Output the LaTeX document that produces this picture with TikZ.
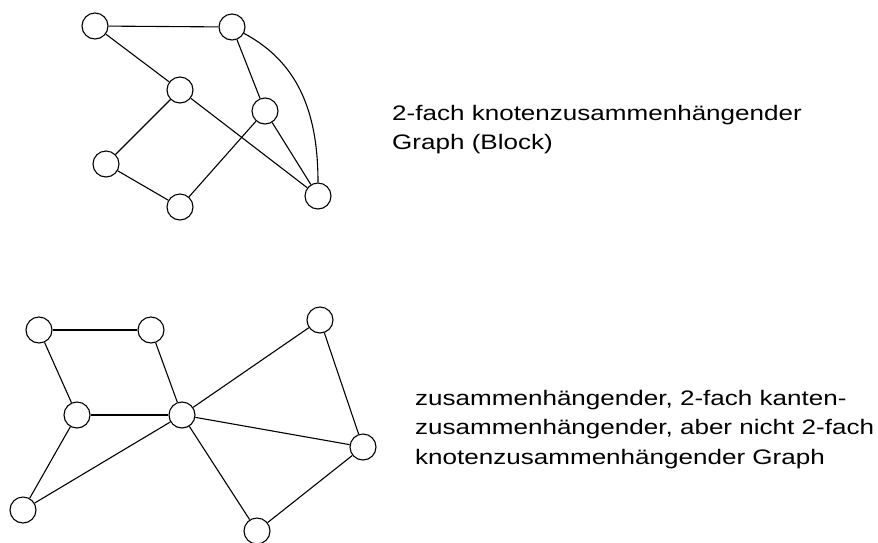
\documentclass[tikz,border=0pt]{standalone}
\usepackage{fontspec}
\setmainfont{Liberation Sans}[FakeStretch=1.24]
\usetikzlibrary{positioning}

\begin{document}
\begin{tikzpicture}[x=1pt,y=-1pt,
    knoten/.style={circle,draw,line width=1.1pt,minimum size=26pt,inner sep=0pt},
    kante/.style={line width=1.1pt},
    beschr/.style={align=left,anchor=base west,inner sep=0pt,
      font=\fontsize{21}{29.5}\selectfont}]
  \useasboundingbox (0,0) rectangle (878,542);

  % Block
  \node[knoten] (a) at (95,26) {};
  \node[knoten] (b) at (232,27) {};
  \node[knoten] (c) at (180,90) {};
  \node[knoten] (d) at (265,111) {};
  \node[knoten] (e) at (106,164) {};
  \node[knoten] (f) at (180,207) {};
  \node[knoten] (g) at (318,196) {};
  \draw[kante] (a) -- (b);
  \draw[kante] (a) -- (c);
  \draw[kante] (c) -- (e);
  \draw[kante] (c) -- (g);
  \draw[kante] (e) -- (f);
  \draw[kante] (f) -- (d);
  \draw[kante] (b) -- (d);
  \draw[kante] (d) -- (g);
  \draw[kante] (b) to[out=-28,in=90] (g);
  \node[beschr] (text1) at (392,149.5) {2-fach knotenzusammenhängender\\Graph (Block)};

  % nicht 2-fach knotenzusammenhaengend
  \node[knoten] (h) at (39,330) {};
  \node[knoten] (i) at (151,330) {};
  \node[knoten] (j) at (320,320) {};
  \node[knoten] (k) at (77,415) {};
  \node[knoten] (l) at (182,415) {};
  \node[knoten] (m) at (363,447) {};
  \node[knoten] (n) at (23,510) {};
  \node[knoten] (o) at (257,531) {};
  \draw[kante] (h) -- (i);
  \draw[kante] (h) -- (k);
  \draw[kante] (i) -- (l);
  \draw[kante] (k) -- (l);
  \draw[kante] (k) -- (n);
  \draw[kante] (n) -- (l);
  \draw[kante] (l) -- (j);
  \draw[kante] (j) -- (m);
  \draw[kante] (l) -- (m);
  \draw[kante] (l) -- (o);
  \draw[kante] (o) -- (m);
  \node[beschr] (text2) at (415,464) {zusammenhängender, 2-fach kanten-\\zusammenhängender, aber nicht 2-fach\\knotenzusammenhängender Graph};
\end{tikzpicture}
\end{document}
